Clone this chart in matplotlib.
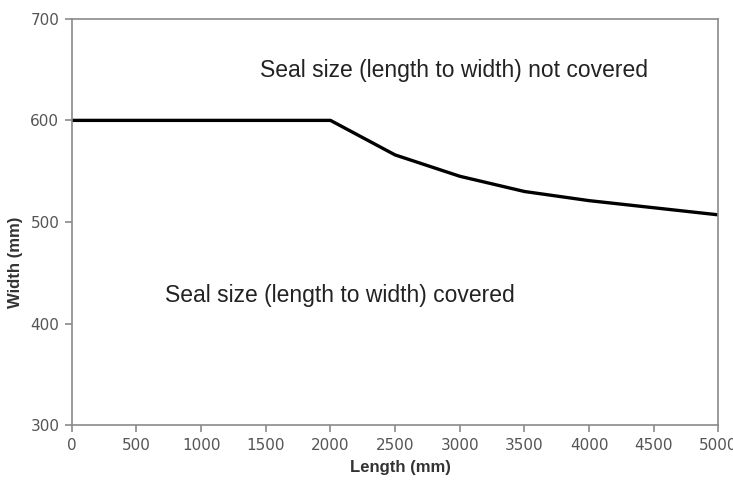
import matplotlib.pyplot as plt

plt.rcParams["font.family"] = ["Liberation Sans", "DejaVu Sans"]

# seal size limit curve
length_mm = [0, 2000, 2500, 3000, 3500, 4000, 4500, 5000]
width_mm = [600, 600, 566, 545, 530, 521, 514, 507]

x_ticks = [0, 500, 1000, 1500, 2000, 2500, 3000, 3500, 4000, 4500, 5000]
y_ticks = [300, 400, 500, 600, 700]

grey = "#8a8a8a"
text_grey = "#555555"

fig = plt.figure(figsize=(7.33, 4.82), dpi=100)
ax = fig.add_axes([0.098, 0.118, 0.882, 0.843])

ax.plot(length_mm, width_mm, color="black", linewidth=2.4, solid_joinstyle="round")

ax.set_xlim(0, 5000)
ax.set_ylim(300, 700)
ax.set_xticks(x_ticks)
ax.set_yticks(y_ticks)

for s in ax.spines.values():
    s.set_color(grey)
    s.set_linewidth(1.2)
ax.tick_params(direction="out", length=5, width=1.2, color=grey,
               labelcolor=text_grey, labelsize=11, pad=4)
for lbl in ax.get_xticklabels() + ax.get_yticklabels():
    lbl.set_family("DejaVu Sans")

ax.set_xlabel("Length (mm)", fontsize=12, fontweight="bold", color="#333333", labelpad=4)
ax.set_ylabel("Width (mm)", fontsize=12, fontweight="bold", color="#333333", labelpad=4)
# labels sit a bit off-centre in the original
ax.xaxis.set_label_coords(0.509, -0.085)
ax.yaxis.set_label_coords(-0.075, 0.40)

ax.text(1455, 649, "Seal size (length to width) not covered", fontsize=16.5,
        color="#222222", va="center", ha="left")
ax.text(720, 428, "Seal size (length to width) covered", fontsize=16.5,
        color="#222222", va="center", ha="left")

fig.savefig("out.png", dpi=100)
